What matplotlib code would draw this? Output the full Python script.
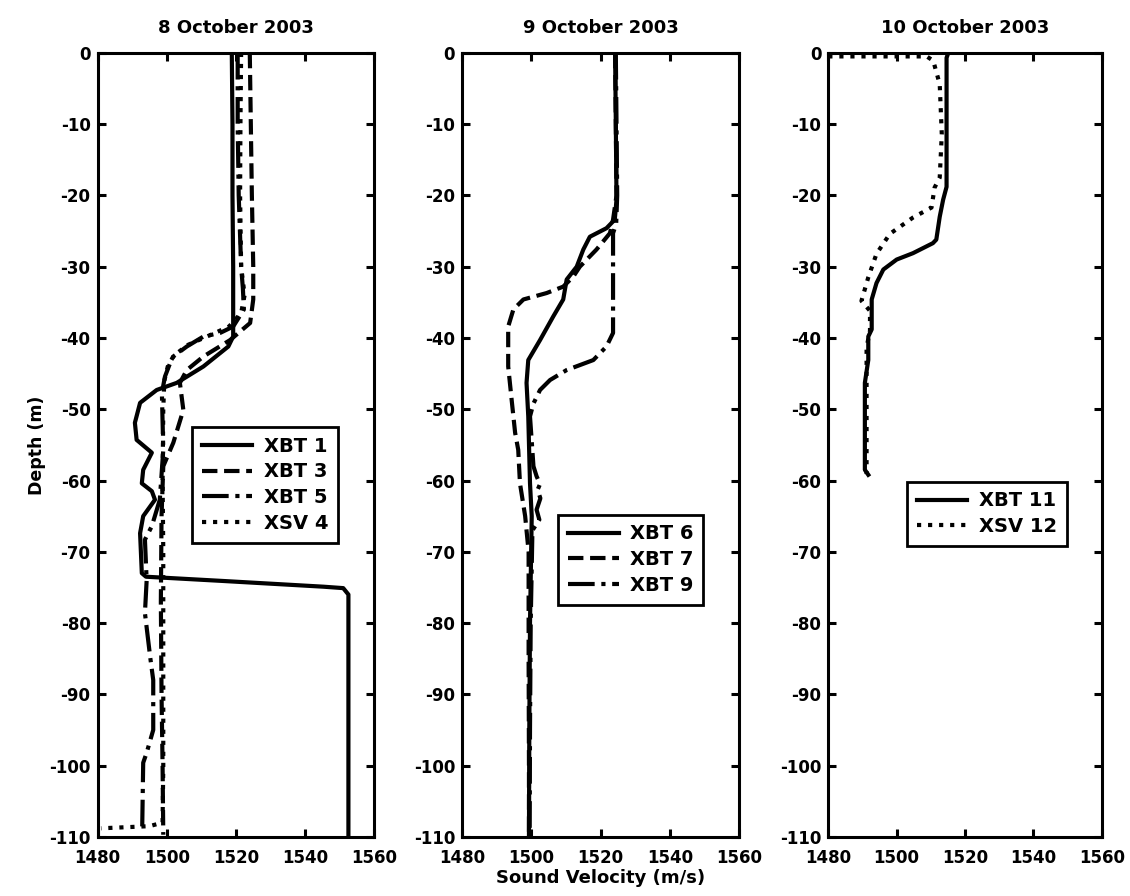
import matplotlib
matplotlib.use("Agg")
import matplotlib.pyplot as plt

plt.rcParams['font.family'] = ['DejaVu Sans']
plt.rcParams['font.weight'] = 'bold'
plt.rcParams['axes.titleweight'] = 'bold'
plt.rcParams['axes.labelweight'] = 'bold'
plt.rcParams['axes.unicode_minus'] = False

# ---- 8 October 2003 ----
xbt1_d = [0, -10, -20, -30, -35, -39.8, -41.2, -44, -46.3, -47.3, -49.1, -51.9, -54.3, -56.1, -58.5, -60.4,
          -61.5, -62.7, -65, -67.4, -73, -73.5, -74.1, -74.9, -75.1, -76, -110]
xbt1_v = [1518.8, 1519, 1519, 1519.2, 1519.2, 1519.2, 1517.8, 1510.6, 1502.9, 1497.1, 1492.3, 1490.8, 1491.3,
          1495.7, 1493.2, 1492.8, 1495.7, 1496.6, 1493.2, 1492.3, 1492.8, 1494, 1516.4, 1545.3, 1551, 1552.5, 1552.5]

xbt3_d = [0, -10, -20, -30, -34.6, -37.9, -40.3, -42.6, -44.5, -46.3, -50.1, -54.7, -58, -65, -77, -90, -100, -109.7]
xbt3_v = [1524, 1524.3, 1524.6, 1525, 1525, 1524.1, 1518.3, 1510.6, 1505.8, 1503.8, 1504.8, 1501.9, 1499,
          1498.5, 1498.3, 1498.5, 1498.8, 1499]

xbt5_d = [0, -10, -20, -30, -33, -36, -38.4, -39.3, -39.8, -41.2, -42.6, -43.5, -45.4, -47.7, -55.7, -62.7,
          -66.4, -68.3, -74, -78.6, -84.7, -88, -95, -98.2, -99.6, -109.2]
xbt5_v = [1520.5, 1520.5, 1520.8, 1521.5, 1522, 1522.3, 1519.2, 1515.4, 1510.6, 1505.8, 1501.9, 1501, 1499.5,
          1498.6, 1499, 1498, 1495.7, 1493.7, 1494.2, 1493.7, 1495.2, 1496.1, 1496.1, 1494.2, 1493.2, 1492.9]

xsv4_d = [0, -10, -20, -30, -34, -36.5, -38.4, -39.5, -41, -42.5, -44, -46, -50, -60, -70, -80, -90, -100,
          -108, -108.5, -108.8]
xsv4_v = [1521.5, 1521.3, 1521.2, 1521.5, 1522.5, 1521.5, 1518, 1513, 1506, 1502, 1500.3, 1499.3, 1499,
          1498.8, 1499, 1499, 1499, 1499, 1498.8, 1495, 1481]

# ---- 9 October 2003 ----
xbt6_d = [0, -10, -20.6, -23.4, -24.6, -25.8, -27.6, -30, -31.8, -34.6, -37, -40.3, -43.1, -46.3, -51, -60.4,
          -65, -80, -95, -110]
xbt6_v = [1524.2, 1524.4, 1524.6, 1524.1, 1521.7, 1516.9, 1515, 1513.1, 1510.2, 1509.2, 1506.3, 1502.5,
          1499.1, 1498.6, 1499.1, 1499.6, 1500.1, 1499.6, 1499.4, 1499.3]

xbt7_d = [0, -10, -20, -23.4, -25.3, -27.6, -30, -31.4, -32.8, -33.7, -34.6, -36, -38.4, -44, -48.7, -53.3,
          -55.7, -60.4, -65, -70, -85, -100, -110]
xbt7_v = [1524.2, 1524.4, 1524.6, 1523.6, 1522.7, 1518.8, 1514, 1512.1, 1509.2, 1504.4, 1497.7, 1494.8,
          1493.3, 1493.3, 1494.3, 1495.3, 1496.2, 1496.7, 1498.2, 1499.2, 1499.2, 1499.3, 1499.3]

xbt9_d = [0, -10, -20, -24, -25.3, -34.6, -39.3, -41.2, -43.1, -44.5, -45.9, -47.3, -49.2, -51, -58, -59.4,
          -60.5, -61.3, -62.5, -64.1, -65.5, -67, -80, -95, -110]
xbt9_v = [1524.4, 1524.6, 1524.8, 1524.5, 1523.6, 1523.6, 1523.6, 1521.7, 1517.9, 1510.2, 1505.4, 1502.5,
          1500.6, 1499.6, 1500.6, 1501.5, 1502.5, 1501.8, 1502.6, 1501.5, 1502.3, 1500.3, 1499.8, 1499.6, 1499.5]

# ---- 10 October 2003 ----
xbt11_d = [0, -0.7, -18.8, -20.6, -23, -26.2, -26.7, -28.1, -29, -30.4, -32.3, -34.6, -38.8, -39.8, -43.1,
           -46.3, -58.5, -59.2]
xbt11_v = [1515.1, 1514.6, 1514.6, 1513.6, 1512.6, 1511.6, 1510.6, 1504.8, 1500, 1496.1, 1494.1, 1492.7,
           1492.7, 1491.7, 1491.7, 1490.7, 1490.7, 1491.7]

xsv12_d = [-0.5, -0.5, -1.1, -4.4, -11.4, -17.5, -18.9, -21.7, -23.1, -25.4, -28.2, -31.5, -34.8, -36.2,
           -39, -41.3, -59.1]
xsv12_v = [1480, 1508.8, 1510.7, 1512.6, 1513.2, 1512.6, 1511.1, 1510.2, 1504.8, 1498, 1494.1, 1491.7,
           1489.7, 1492.2, 1492.2, 1491.2, 1491.2]

titles = ['8 October 2003', '9 October 2003', '10 October 2003']
xticks = [1480, 1500, 1520, 1540, 1560]
yticks = list(range(0, -111, -10))

panels = [
    [(xbt1_v, xbt1_d, '-', 'XBT 1'), (xbt3_v, xbt3_d, '--', 'XBT 3'),
     (xbt5_v, xbt5_d, '-.', 'XBT 5'), (xsv4_v, xsv4_d, ':', 'XSV 4')],
    [(xbt6_v, xbt6_d, '-', 'XBT 6'), (xbt7_v, xbt7_d, '--', 'XBT 7'),
     (xbt9_v, xbt9_d, '-.', 'XBT 9')],
    [(xbt11_v, xbt11_d, '-', 'XBT 11'), (xsv12_v, xsv12_d, ':', 'XSV 12')],
]

# axes rectangles in figure fraction, legend anchors in axes fraction
rects = [[0.0863, 0.066, 0.245, 0.875], [0.409, 0.066, 0.245, 0.875], [0.733, 0.066, 0.242, 0.875]]
leg_anchor = [(0.341, 0.523), (0.347, 0.411), (0.288, 0.453)]

fig = plt.figure(figsize=(11.3, 8.96), dpi=100)

for i in range(3):
    ax = fig.add_axes(rects[i])
    for v, d, ls, lab in panels[i]:
        ax.plot(v, d, color='black', linestyle=ls, linewidth=3, label=lab)
    ax.set_xlim(1480, 1560)
    ax.set_ylim(-110, 0)
    ax.set_xticks(xticks)
    ax.set_yticks(yticks)
    ax.tick_params(direction='in', length=6, width=2.2, top=True, right=True, labelsize=12)
    ax.tick_params(axis='x', pad=9)
    ax.tick_params(axis='y', pad=5)
    for s in ax.spines.values():
        s.set_linewidth(2.2)
    ax.set_title(titles[i], fontsize=13, pad=14)
    leg = ax.legend(loc='upper left', bbox_to_anchor=leg_anchor[i], borderaxespad=0,
                    fancybox=False, edgecolor='black', framealpha=1, fontsize=14,
                    handlelength=2.6, handletextpad=0.6, labelspacing=0.35, borderpad=0.5)
    leg.get_frame().set_linewidth(2)
    if i == 0:
        ax.set_ylabel('Depth (m)', fontsize=12.5, labelpad=2)
    if i == 1:
        ax.set_xlabel('Sound Velocity (m/s)', fontsize=13, labelpad=1)

plt.savefig('out.png', dpi=100)
